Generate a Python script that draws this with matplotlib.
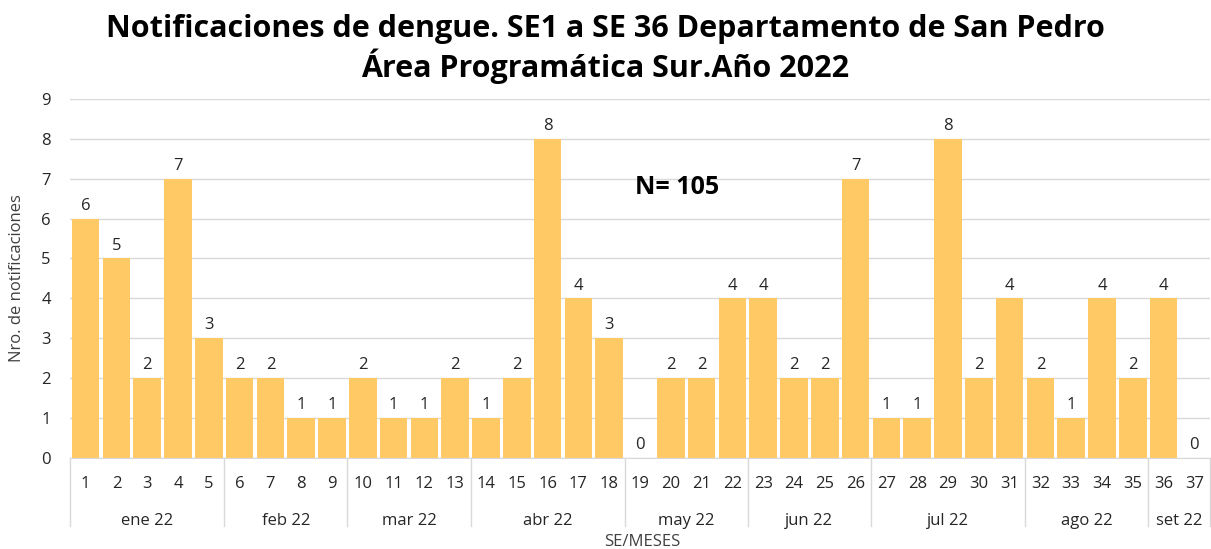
import matplotlib.pyplot as plt
from matplotlib import transforms

plt.rcParams['font.family'] = ['Open Sans', 'DejaVu Sans']

semanas = [str(i) for i in range(1, 38)]
casos = [6, 5, 2, 7, 3, 2, 2, 1, 1, 2, 1, 1, 2, 1, 2, 8, 4, 3, 0, 2, 2, 4,
         4, 2, 2, 7, 1, 1, 8, 2, 4, 2, 1, 4, 2, 4, 0]
meses = ['ene 22', 'feb 22', 'mar 22', 'abr 22', 'may 22', 'jun 22',
         'jul 22', 'ago 22', 'set 22']
semanas_por_mes = [5, 4, 4, 5, 4, 4, 5, 4, 2]

fig = plt.figure(figsize=(12.11, 5.49), dpi=100)
ax = fig.add_axes([0.058, 0.166, 0.941, 0.654])

x = list(range(len(casos)))
ax.bar(x, casos, width=0.9, color='#FFCA66', zorder=2)
for xi, v in zip(x, casos):
    ax.text(xi, v + 0.12, str(v), ha='center', va='bottom', fontsize=12, color='#262626')

ax.set_xlim(-0.5, len(casos) - 0.5)
ax.set_ylim(0, 9)
ax.set_yticks(range(0, 10))
ax.grid(axis='y', color='#D9D9D9', linewidth=1, zorder=0)
ax.set_xticks(x)
ax.set_xticklabels(semanas, fontsize=12, color='#262626')
ax.tick_params(axis='x', length=0, pad=13)
ax.tick_params(axis='y', length=0, labelsize=12, labelcolor='#262626', pad=14)
for s in ['top', 'right', 'left']:
    ax.spines[s].set_visible(False)
ax.spines['bottom'].set_color('#D9D9D9')

# separadores de meses y etiquetas
tr = transforms.blended_transform_factory(ax.transData, ax.transAxes)
inicio = -0.5
ax.plot([inicio, inicio], [0, -0.19], color='#D9D9D9', lw=1, transform=tr, clip_on=False)
for mes, n in zip(meses, semanas_por_mes):
    fin = inicio + n
    ax.plot([fin, fin], [0, -0.19], color='#D9D9D9', lw=1, transform=tr, clip_on=False)
    ax.text((inicio + fin) / 2, -0.175, mes, ha='center', va='center', fontsize=12,
            color='#262626', transform=tr)
    inicio = fin

fig.text(0.53, 0.013, 'SE/MESES', fontsize=12, color='#404040', ha='center', va='center')
ax.set_ylabel('Nro. de notificaciones', fontsize=12, color='#404040', labelpad=12)

ax.text(19.2, 6.77, 'N= 105', fontsize=18, fontweight='bold', ha='center', va='center')

fig.suptitle('Notificaciones de dengue. SE1 a SE 36 Departamento de San Pedro\n'
             'Área Programática Sur.Año 2022', fontsize=22, fontweight='bold',
             x=0.5, y=0.975, linespacing=1.15)

fig.savefig('out.png', dpi=100)
